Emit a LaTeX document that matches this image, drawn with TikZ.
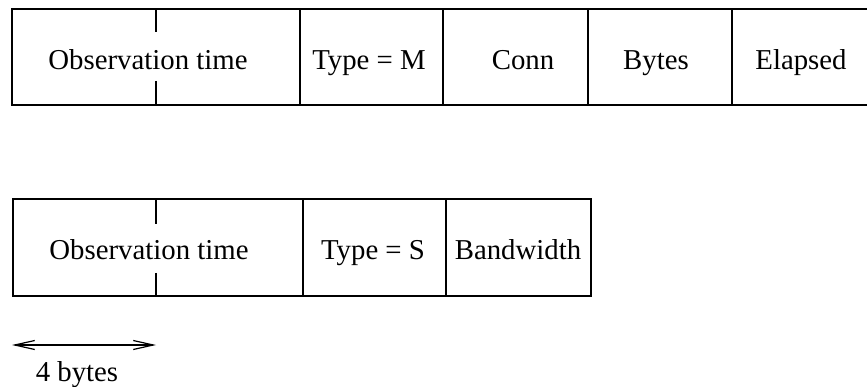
\documentclass[tikz,border=0pt]{standalone}
\usepackage{fontspec}
\setmainfont{Liberation Serif}
\usetikzlibrary{arrows.meta}
\begin{document}
\begin{tikzpicture}[x=1pt,y=-1pt,
  frame/.style={line width=2pt},
  lbl/.style={anchor=base,inner sep=0pt,font=\fontsize{28.8}{34}\selectfont},
  dimarrow/.style={line width=1.2pt,{Straight Barb[length=20pt,width=9pt]}-{Straight Barb[length=20pt,width=9pt]}}]
\useasboundingbox (0,0) rectangle (867,387);
% top record
\draw[frame] (12,9) rectangle (885,105);
\draw[frame] (300,9) -- (300,105);
\draw[frame] (443,9) -- (443,105);
\draw[frame] (588,9) -- (588,105);
\draw[frame] (732,9) -- (732,105);
\draw[frame] (156,9) -- (156,32);
\draw[frame] (156,81) -- (156,105);
\node[lbl] (m1) at (148,70) {Observation time};
\node[lbl] (m2) at (369,70) {Type = M};
\node[lbl] (m3) at (523,70) {Conn};
\node[lbl] (m4) at (656,70) {Bytes};
\node[lbl] (m5) at (801,70) {Elapsed};
% bottom record
\draw[frame] (13,199) rectangle (591,296);
\draw[frame] (303,199) -- (303,296);
\draw[frame] (446,199) -- (446,296);
\draw[frame] (156,199) -- (156,224);
\draw[frame] (156,273) -- (156,297);
\node[lbl] (s1) at (149,260) {Observation time};
\node[lbl] (s2) at (373,260) {Type = S};
\node[lbl] (s3) at (518,260) {Bandwidth};
% dimension
\coordinate (da) at (12,345);
\coordinate (db) at (156,345);
\draw[dimarrow] (da) -- (db);
\node[lbl] (dim) at (77,381) {4 bytes};
\end{tikzpicture}
\end{document}
